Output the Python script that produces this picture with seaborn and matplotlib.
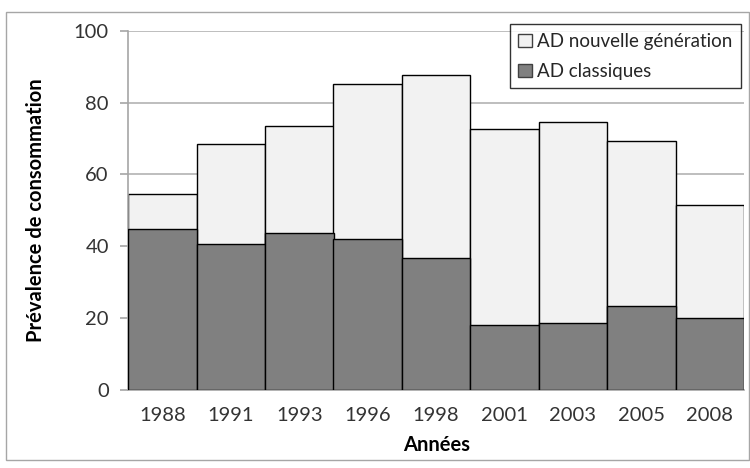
import matplotlib
matplotlib.use("Agg")
import matplotlib.pyplot as plt
import seaborn as sns
import pandas as pd
from matplotlib.patches import Rectangle, Patch

# data
years = ["1988", "1991", "1993", "1996", "1998", "2001", "2003", "2005", "2008"]
total = [54.6, 68.5, 73.5, 85.2, 87.7, 72.7, 74.6, 69.4, 51.5]
classiques = [44.8, 40.7, 43.7, 42.0, 36.8, 18.1, 18.7, 23.4, 20.0]

df = pd.DataFrame({"annee": years, "total": total, "classiques": classiques})

sns.set_style("white")
plt.rcParams["font.family"] = ["Lato", "DejaVu Sans"]

light = "#f2f2f2"
dark = "#808080"

fig = plt.figure(figsize=(7.5, 4.68), dpi=100)
ax = fig.add_axes([0.171, 0.167, 0.821, 0.767])

# stacked bars: full height in light grey, then classic part on top in dark grey
sns.barplot(data=df, x="annee", y="total", color=light, width=1.0,
            edgecolor="black", linewidth=1.0, saturation=1, ax=ax, zorder=2)
sns.barplot(data=df, x="annee", y="classiques", color=dark, width=1.0,
            edgecolor="black", linewidth=1.0, saturation=1, ax=ax, zorder=3)

ax.set_ylim(0, 100)
ax.set_xlim(-0.5, len(years) - 0.5)
ax.set_yticks([0, 20, 40, 60, 80, 100])
ax.yaxis.grid(True, color="#b3b3b3", linewidth=1.2, zorder=0)
ax.set_axisbelow(True)

for side in ["top", "right"]:
    ax.spines[side].set_visible(False)
for side in ["left", "bottom"]:
    ax.spines[side].set_color("#a6a6a6")
    ax.spines[side].set_linewidth(1.2)

ax.tick_params(axis="y", left=True, length=6, color="#a6a6a6", width=1.2,
               labelsize=14.5, labelcolor="#333333", pad=8)
ax.tick_params(axis="x", bottom=False, labelsize=14.5, labelcolor="#333333", pad=9)

ax.set_xlabel("Années", fontsize=14.5, fontweight="bold", color="black", labelpad=8)
ax.set_ylabel("Prévalence de consommation", fontsize=14.5, fontweight="bold",
              color="black", labelpad=20)

handles = [Patch(facecolor=light, edgecolor="#404040", label="AD nouvelle génération"),
           Patch(facecolor=dark, edgecolor="#404040", label="AD classiques")]
leg = fig.legend(handles=handles, loc="upper right", bbox_to_anchor=(0.988, 0.948),
                 fontsize=13.5, frameon=True, fancybox=False, handlelength=0.7,
                 handleheight=0.7, handletextpad=0.3, borderpad=0.45, labelspacing=0.7,
                 borderaxespad=0.0)
leg.get_frame().set_edgecolor("black")
leg.get_frame().set_linewidth(1.0)

# outer chart border
fig.patches.append(Rectangle((0.008, 0.017), 0.99, 0.958, transform=fig.transFigure,
                             fill=False, edgecolor="#a6a6a6", linewidth=1.0))

fig.savefig("out.png", dpi=100)
